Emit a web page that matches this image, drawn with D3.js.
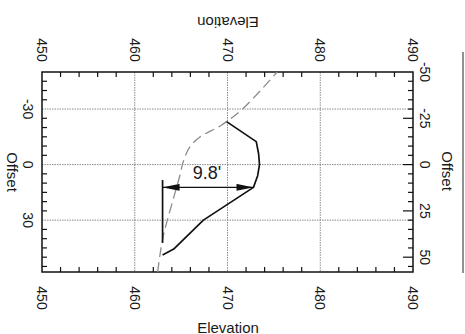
<!DOCTYPE html>
<html>
<head>
<meta charset="utf-8">
<script src="https://cdn.jsdelivr.net/npm/d3@7"></script>
<style>
  html, body { margin: 0; padding: 0; background: #fff; }
  svg text { font-family: "Liberation Sans", Arial, Helvetica, sans-serif; fill: #1a1a1a; }
</style>
</head>
<body>
<svg id="chart" width="465" height="334"></svg>
<script>
// Axis ticks
const elevTicks = [450, 460, 470, 480, 490];
const elevGrid = [460, 470, 480];
const leftOffsetTicks = [-30, 0, 30];
const rightOffsetTicks = [-50, -25, 0, 25, 50];

// Proposed section (solid)
const designElev   = [463.0, 464.2, 467.4, 472.8, 473.25, 473.45, 473.35, 473.1, 469.9];
const designOffset = [48.8, 45.6, 30.0, 12.3, 6.0, 0.0, -6.0, -12.4, -23.2];

// Existing ground (dashed)
const groundElev   = [462.47, 462.72, 463.1, 463.62, 464.34, 464.88, 465.23, 465.96, 467.03, 469.37, 471.7, 475.35];
const groundOffset = [58.0, 48.8, 38.0, 28.1, 15.3, 5.6, -1.6, -9.7, -14.9, -21.4, -30.4, -50.0];

// Reference marker and dimension
const markerElev = 463.0;
const markerOffsets = [8.3, 42.3];
const dimOffset = 12.3;
const dimValue = 9.8;

const svg = d3.select("#chart");
const x = d3.scaleLinear().domain([450, 490]).range([42, 413]);
const y = d3.scaleLinear().domain([-50, 58]).range([72, 272]);
const [x0, x1] = x.range();
const [y0, y1] = y.range();

// Grid lines
const grid = svg.append("g").attr("stroke", "#8a8a8a").attr("stroke-width", 1).attr("stroke-dasharray", "1.5,1");
grid.selectAll("line.v").data(elevGrid).join("line")
  .attr("x1", d => x(d)).attr("x2", d => x(d)).attr("y1", y0).attr("y2", y1);
grid.selectAll("line.h").data(leftOffsetTicks).join("line")
  .attr("y1", d => y(d)).attr("y2", d => y(d)).attr("x1", x0).attr("x2", x1);

// Minor ticks (inward)
const minorElev = d3.range(452, 490, 2).filter(v => v % 10 !== 0);
const minorOff = d3.range(-45, 58, 5);
const ticks = svg.append("g").attr("stroke", "#111").attr("stroke-width", 1.2);
minorElev.forEach(v => {
  ticks.append("line").attr("x1", x(v)).attr("x2", x(v)).attr("y1", y1).attr("y2", y1 - 5);
  ticks.append("line").attr("x1", x(v)).attr("x2", x(v)).attr("y1", y0).attr("y2", y0 + 5);
});
minorOff.filter(v => !leftOffsetTicks.includes(v)).forEach(v => {
  ticks.append("line").attr("x1", x0).attr("x2", x0 + 5).attr("y1", y(v)).attr("y2", y(v));
});
minorOff.forEach(v => {
  const len = rightOffsetTicks.includes(v) ? 10 : 5;
  ticks.append("line").attr("x1", x1).attr("x2", x1 - len).attr("y1", y(v)).attr("y2", y(v));
});

// Frame
svg.append("rect").attr("x", x0).attr("y", y0).attr("width", x1 - x0).attr("height", y1 - y0)
  .attr("fill", "none").attr("stroke", "#111").attr("stroke-width", 1.5);

// Tick labels, turned a quarter clockwise
function rotLabel(cx, cy, txt, size) {
  svg.append("text")
    .attr("transform", `translate(${cx},${cy}) rotate(90)`)
    .attr("text-anchor", "middle").attr("dominant-baseline", "central")
    .attr("font-size", size).text(txt);
}
elevTicks.forEach(v => { rotLabel(x(v), 50, v, 14); rotLabel(x(v), 298, v, 14); });
leftOffsetTicks.forEach(v => rotLabel(28, y(v), v, 14));
rightOffsetTicks.forEach(v => rotLabel(425, y(v), v, 14));

// Axis titles
rotLabel(12, 172, "Offset", 15);
rotLabel(447, 171, "Offset", 15);
svg.append("text").attr("x", 228).attr("y", 327).attr("text-anchor", "middle")
  .attr("dominant-baseline", "central").attr("font-size", 15).text("Elevation");
svg.append("text").attr("transform", "translate(228,22) rotate(180)").attr("text-anchor", "middle")
  .attr("dominant-baseline", "central").attr("font-size", 15).text("Elevation");

// Page edge rule on the right
svg.append("line").attr("x1", 463).attr("x2", 463).attr("y1", 52).attr("y2", 273)
  .attr("stroke", "#555").attr("stroke-width", 1.3);

const line = d3.line().x(d => x(d[0])).y(d => y(d[1]));
const smooth = d3.line().x(d => x(d[0])).y(d => y(d[1])).curve(d3.curveCatmullRom.alpha(0.5));

// Existing ground
svg.append("path").datum(d3.zip(groundElev, groundOffset)).attr("d", smooth)
  .attr("fill", "none").attr("stroke", "#8c8c8c").attr("stroke-width", 1.3)
  .attr("stroke-dasharray", "10,5");

// Proposed section
svg.append("path").datum(d3.zip(designElev, designOffset)).attr("d", line)
  .attr("fill", "none").attr("stroke", "#111").attr("stroke-width", 1.7)
  .attr("stroke-linejoin", "round");

// Reference marker
svg.append("line").attr("x1", x(markerElev)).attr("x2", x(markerElev))
  .attr("y1", y(markerOffsets[0])).attr("y2", y(markerOffsets[1]))
  .attr("stroke", "#111").attr("stroke-width", 1.7);

// Dimension arrow
const defs = svg.append("defs");
defs.append("marker").attr("id", "arrow").attr("viewBox", "0 0 17 7")
  .attr("refX", 17).attr("refY", 3.5).attr("markerWidth", 17).attr("markerHeight", 7)
  .attr("markerUnits", "userSpaceOnUse").attr("orient", "auto-start-reverse")
  .append("path").attr("d", "M0,0 L17,3.5 L0,7 Z").attr("fill", "#111");
svg.append("line")
  .attr("x1", x(markerElev)).attr("x2", x(markerElev + dimValue))
  .attr("y1", y(dimOffset)).attr("y2", y(dimOffset))
  .attr("stroke", "#111").attr("stroke-width", 1.3)
  .attr("marker-start", "url(#arrow)").attr("marker-end", "url(#arrow)");
svg.append("text").attr("x", x(markerElev + dimValue / 2) - 1).attr("y", y(dimOffset) - 14)
  .attr("text-anchor", "middle").attr("dominant-baseline", "central").attr("font-size", 18)
  .text(dimValue + "'");
</script>
</body>
</html>
